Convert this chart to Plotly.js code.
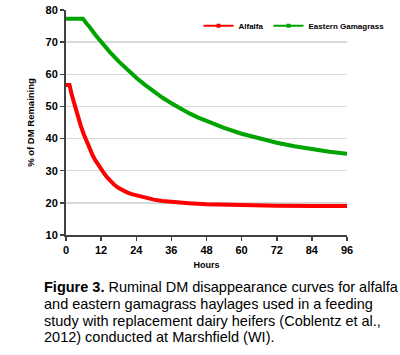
<!DOCTYPE html>
<html>
<head>
<meta charset="utf-8">
<script src="https://cdn.plot.ly/plotly-3.0.1.min.js"></script>
<style>html,body{margin:0;padding:0;background:#fff;}#chart{width:400px;height:355px;}</style>
</head>
<body>
<div id="chart"></div>
<script>
// Data
var hours = [0, 1.2, 2, 3, 4, 5, 6, 7, 8, 9, 10, 11, 12, 13, 14, 15, 16.5, 18, 19.5, 21, 22.5, 24, 27, 30, 33, 36, 42, 48, 54, 60, 66, 72, 84, 96];
var alfalfa = [56.7, 56.7, 53.5, 50.0, 46.9, 44.1, 41.5, 39.1, 37.0, 35.0, 33.3, 31.8, 30.5, 29.2, 28.0, 26.9, 25.6, 24.6, 23.8, 23.2, 22.7, 22.3, 21.6, 21.0, 20.6, 20.3, 19.9, 19.6, 19.4, 19.3, 19.2, 19.1, 19.0, 19.0];
var gamaHours = [0, 5.8, 7, 8, 10, 12, 15, 18, 21, 24, 27, 30, 33, 36, 39, 42, 45, 48, 54, 60, 66, 72, 78, 84, 90, 96];
var gamagrass = [77.3, 77.3, 75.8, 74.8, 72.3, 70.0, 66.9, 64.0, 61.3, 58.9, 56.7, 54.6, 52.7, 51.0, 49.4, 47.9, 46.6, 45.4, 43.3, 41.5, 40.0, 38.7, 37.6, 36.7, 35.9, 35.3];
var seriesNames = ['Alfalfa', 'Eastern Gamagrass'];
var seriesColors = ['#ff0000', '#00a400'];
var xTicks = [0, 12, 24, 36, 48, 60, 72, 84, 96];
var yTicks = [10, 20, 30, 40, 50, 60, 70, 80];
var captionLines = [
  '<b>Figure 3.</b> Ruminal DM disappearance curves for alfalfa',
  'and eastern gamagrass haylages used in a feeding',
  'study with replacement dairy heifers (Coblentz et al.,',
  '2012) conducted at Marshfield (WI).'
];

var narrow = '"Liberation Sans Narrow", "Liberation Sans", Arial, sans-serif';
var traces = [
  {x: hours, y: alfalfa, mode: 'lines', line: {color: seriesColors[0], width: 4}, showlegend: false, legendgroup: 'a', hoverinfo: 'skip'},
  {x: gamaHours, y: gamagrass, mode: 'lines', line: {color: seriesColors[1], width: 4}, showlegend: false, legendgroup: 'g', hoverinfo: 'skip'},
  {x: [null], y: [null], name: seriesNames[0], mode: 'lines+markers', line: {color: seriesColors[0], width: 2}, marker: {symbol: 'square', size: 4, color: seriesColors[0]}, legendgroup: 'a'},
  {x: [null], y: [null], name: seriesNames[1], mode: 'lines+markers', line: {color: seriesColors[1], width: 2}, marker: {symbol: 'square', size: 4, color: seriesColors[1]}, legendgroup: 'g'}
];

var plotTop = 10.3, plotBottom = 234.7, plotLeft = 66, plotRight = 382;
var H = plotBottom - plotTop;
function py(pix) { return (plotBottom - pix) / H; }
function px(pix) { return (pix - plotLeft) / (plotRight - plotLeft); }

var annotations = captionLines.map(function (t, i) {
  return {text: t, xref: 'paper', yref: 'paper', x: px(39), y: py(286.5 + i * 16.8), xanchor: 'left', yanchor: 'middle',
    showarrow: false, align: 'left', font: {family: '"Liberation Sans", Arial, sans-serif', size: 14.5, color: '#000'}};
});

var layout = {
  width: 400, height: 355,
  margin: {l: plotLeft, r: 400 - plotRight, t: plotTop, b: 355 - plotBottom},
  paper_bgcolor: '#fff', plot_bgcolor: '#fff',
  showlegend: true,
  legend: {orientation: 'h', x: px(215), y: py(26), xanchor: 'left', yanchor: 'middle', itemwidth: 30,
    font: {family: narrow, size: 8, color: '#000', weight: 'bold'}, bgcolor: 'rgba(0,0,0,0)', tracegroupgap: 0},
  xaxis: {range: [0, 96], tickvals: xTicks, ticktext: xTicks.map(String), showgrid: false, zeroline: false,
    showline: true, linecolor: '#404040', linewidth: 2, ticks: 'outside', ticklen: 4, tickcolor: '#404040', tickwidth: 1.5,
    tickfont: {family: narrow, size: 11, color: '#000', weight: 'bold'},
    title: {text: '<b>Hours</b>', font: {family: narrow, size: 9, color: '#000'}, standoff: 6}},
  yaxis: {range: [10, 80], tickvals: yTicks, ticktext: yTicks.map(String), showgrid: true, gridcolor: '#d9d9d9', gridwidth: 1.5,
    zeroline: false, showline: true, linecolor: '#404040', linewidth: 2, ticks: 'outside', ticklen: 4, tickcolor: '#404040', tickwidth: 1.5,
    tickfont: {family: narrow, size: 11, color: '#000', weight: 'bold'},
    title: {text: '<b>% of DM Remaining</b>', font: {family: narrow, size: 9.5, color: '#000'}, standoff: 9}},
  annotations: annotations
};

Plotly.newPlot('chart', traces, layout, {staticPlot: true, displayModeBar: false});
</script>
</body>
</html>
